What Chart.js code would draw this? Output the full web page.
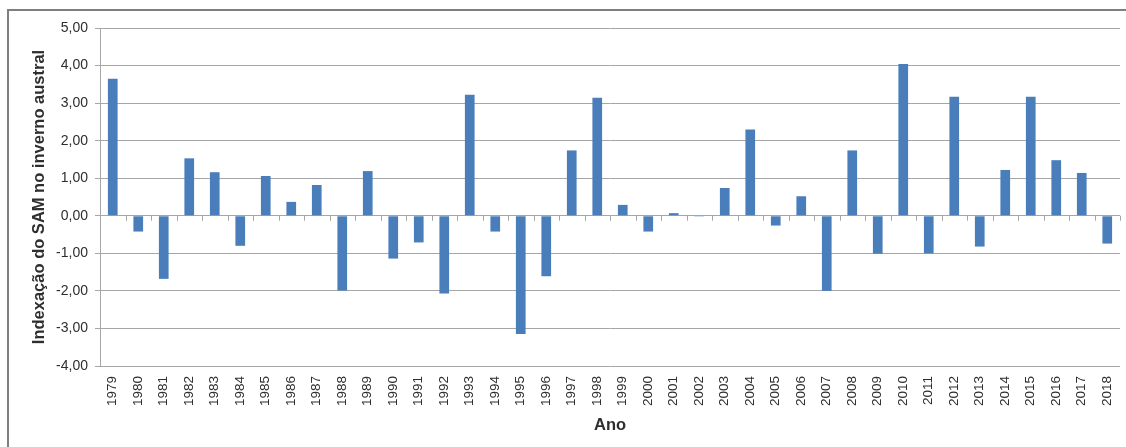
<!DOCTYPE html>
<html>
<head>
<meta charset="utf-8">
<script src="https://cdn.jsdelivr.net/npm/chart.js@4.4.1/dist/chart.umd.min.js"></script>
<style>
  html, body { margin: 0; padding: 0; background: #ffffff; }
  #wrap { width: 1126px; height: 447px; position: relative; }
</style>
</head>
<body>
<div id="wrap"><canvas id="c" width="1126" height="447"></canvas></div>
<script>
// Years of the austral winter series
const years = [
  '1979','1980','1981','1982','1983','1984','1985','1986','1987','1988',
  '1989','1990','1991','1992','1993','1994','1995','1996','1997','1998',
  '1999','2000','2001','2002','2003','2004','2005','2006','2007','2008',
  '2009','2010','2011','2012','2013','2014','2015','2016','2017','2018'
];

// SAM index per year
const samIndex = [
   3.65, -0.42, -1.68,  1.53,  1.16, -0.80,  1.06,  0.37,  0.82, -1.99,
   1.19, -1.14, -0.71, -2.07,  3.22, -0.42, -3.15, -1.61,  1.74,  3.14,
   0.29, -0.42,  0.07, -0.02,  0.74,  2.30, -0.26,  0.52, -2.00,  1.74,
  -1.01,  4.04, -1.00,  3.17, -0.82,  1.22,  3.17,  1.48,  1.14, -0.74
];

// Value axis range and step
const yMin = -4;
const yMax = 5;
const yStep = 1;

const yTitle = 'Indexação do SAM no inverno austral';
const xTitle = 'Ano';

const gridColor = '#a6a6a6';
const textColor = '#2e2e2e';
const barColor = '#4A7EBB';

// Outer frame lines (top and left edges of the chart box)
const framePlugin = {
  id: 'frame',
  beforeDraw(chart) {
    const ctx = chart.ctx;
    ctx.save();
    ctx.strokeStyle = '#7f7f7f';
    ctx.lineWidth = 2;
    ctx.beginPath();
    ctx.moveTo(8, chart.height);
    ctx.lineTo(8, 10);
    ctx.lineTo(chart.width, 10);
    ctx.stroke();
    ctx.restore();
  }
};

// Category tick marks hanging below the zero line
const zeroTicksPlugin = {
  id: 'zeroTicks',
  afterDatasetsDraw(chart) {
    const x = chart.scales.x;
    const y = chart.scales.y;
    const y0 = y.getPixelForValue(0);
    const n = years.length;
    const ctx = chart.ctx;
    ctx.save();
    ctx.strokeStyle = gridColor;
    ctx.lineWidth = 1;
    ctx.beginPath();
    for (let i = 0; i <= n; i++) {
      let px;
      if (i === 0) px = x.left;
      else if (i === n) px = x.right;
      else px = (x.getPixelForValue(i - 1) + x.getPixelForValue(i)) / 2;
      px = Math.round(px) + 0.5;
      ctx.moveTo(px, y0);
      ctx.lineTo(px, y0 + 5);
    }
    ctx.stroke();
    ctx.restore();
  }
};

const fontFamily = '"Liberation Sans", Arial, Helvetica, sans-serif';

new Chart(document.getElementById('c'), {
  type: 'bar',
  data: {
    labels: years,
    datasets: [{
      data: samIndex,
      backgroundColor: barColor,
      borderWidth: 0,
      barPercentage: 0.38,
      categoryPercentage: 1.0
    }]
  },
  options: {
    responsive: false,
    animation: false,
    devicePixelRatio: 1,
    layout: { padding: { top: 28, right: 6, left: 10, bottom: 0 } },
    plugins: {
      legend: { display: false },
      tooltip: { enabled: false }
    },
    scales: {
      x: {
        grid: { display: false, drawTicks: false },
        border: { display: false },
        ticks: {
          color: textColor,
          font: { family: fontFamily, size: 13.5 },
          minRotation: 90,
          maxRotation: 90,
          autoSkip: false,
          padding: 10
        },
        title: {
          display: true,
          text: xTitle,
          color: textColor,
          font: { family: fontFamily, size: 16.5, weight: 'bold' },
          padding: { top: 0, bottom: 12 }
        },
        afterFit(scale) {
          scale.height = 447 - 366;
          scale.paddingLeft = 0;
          scale.paddingRight = 0;
        }
      },
      y: {
        min: yMin,
        max: yMax,
        grid: {
          color: gridColor,
          lineWidth: 1,
          drawTicks: true,
          tickLength: 5
        },
        border: { display: true, color: gridColor, width: 1 },
        ticks: {
          stepSize: yStep,
          color: textColor,
          font: { family: fontFamily, size: 14 },
          padding: 7,
          callback: (v) => Number(v).toFixed(2).replace('.', ',')
        },
        title: {
          display: true,
          text: yTitle,
          color: textColor,
          font: { family: fontFamily, size: 16.5, weight: 'bold' },
          padding: { top: 20, bottom: 0 }
        },
        afterFit(scale) { scale.width = 100 - 10; }
      }
    }
  },
  plugins: [framePlugin, zeroTicksPlugin]
});
</script>
</body>
</html>
